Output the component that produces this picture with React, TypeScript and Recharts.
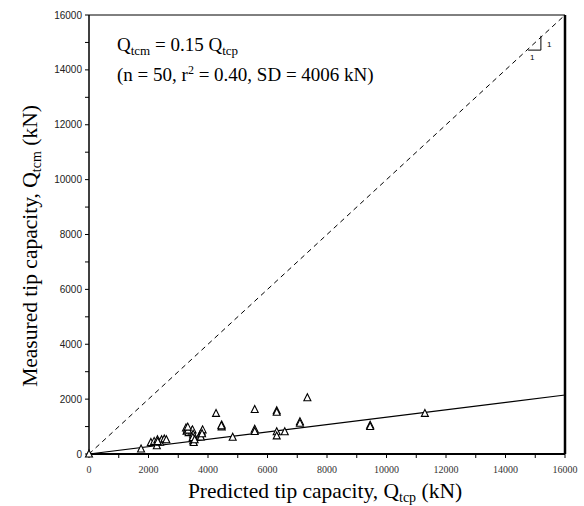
import React from "react";
import {
  ReferenceLine,
  Scatter,
  ScatterChart,
  XAxis,
  YAxis,
} from "recharts";

const predicted = [
  0, 1750, 2080, 2190, 2280, 2300, 2390, 2440, 2530, 2600,
  3260, 3280, 3300, 3350, 3450, 3480, 3500, 3500, 3500, 3520,
  3500, 3730, 3790, 3820, 3760, 4270, 4460, 4460, 4830, 5570,
  5570, 5570, 6310, 6310, 6310, 6310, 6580, 7090, 7090, 7340,
  9450, 9450, 11290, 3330, 2310, 3490, 3550, 3800, 3320, 4450,
];
const measured = [
  0, 180, 420, 460, 300, 520, 430, 520, 550, 520,
  950, 830, 900, 780, 830, 880, 650, 560, 480, 420,
  720, 690, 800, 880, 620, 1480, 1060, 990, 610, 1620,
  900, 820, 1580, 1520, 810, 660, 810, 1180, 1120, 2050,
  1050, 1000, 1480, 870, 450, 600, 520, 740, 980, 1030,
];

const axisTicks = [
  0, 1000, 2000, 3000, 4000, 5000, 6000, 7000, 8000, 9000, 10000,
  11000, 12000, 13000, 14000, 15000, 16000,
];
const oneToOne = [
  { x: 0, y: 0 },
  { x: 16000, y: 16000 },
];
const fitLine = [
  { x: 0, y: 0 },
  { x: 16000, y: 2150 },
];
// small 1:1 slope marker near the top right
const slopeVertical = [
  { x: 15190, y: 14720 },
  { x: 15190, y: 15240 },
];
const slopeHorizontal = [
  { x: 14760, y: 14720 },
  { x: 15190, y: 14720 },
];

const points = predicted.map((p, i) => ({ x: p, y: measured[i] }));

const serif = "'Liberation Serif', 'Times New Roman', serif";
const sans = "'Liberation Sans', Arial, sans-serif";

const Triangle = (props: any) => {
  const { cx, cy } = props;
  if (cx == null || cy == null) return null;
  return (
    <polygon
      points={`${cx},${cy - 4} ${cx - 3.5},${cy + 3} ${cx + 3.5},${cy + 3}`}
      fill="#fff"
      stroke="#000"
      strokeWidth={1.1}
    />
  );
};

const labelEvery2000 = (v: number) => (v % 2000 === 0 ? String(v) : "");

export default function App() {
  return (
    <div style={{ position: "absolute", left: 0, top: 0, width: 584, height: 506, background: "#fff" }}>
      <ScatterChart
        width={584}
        height={506}
        margin={{ top: 15, right: 19, bottom: 22, left: 0 }}
      >
        <XAxis
          type="number"
          dataKey="x"
          domain={[0, 16000]}
          ticks={axisTicks}
          tickFormatter={labelEvery2000}
          interval={0}
          height={30}
          tickSize={4}
          tickMargin={8}
          axisLine={{ stroke: "#000", strokeWidth: 2 }}
          tickLine={{ stroke: "#000" }}
          tick={{ fontSize: 10, fontFamily: serif, fill: "#333" }}
        />
        <YAxis
          type="number"
          dataKey="y"
          domain={[0, 16000]}
          ticks={axisTicks}
          tickFormatter={labelEvery2000}
          interval={0}
          width={89}
          tickSize={4}
          tickMargin={3}
          axisLine={{ stroke: "#000", strokeWidth: 1.5 }}
          tickLine={{ stroke: "#000" }}
          tick={{ fontSize: 10, fontFamily: sans, fill: "#222" }}
        />
        <ReferenceLine y={16000} stroke="#000" strokeWidth={1} />
        <ReferenceLine x={16000} stroke="#000" strokeWidth={2.5} />
        <ReferenceLine segment={oneToOne} stroke="#000" strokeWidth={1} strokeDasharray="5 4" />
        <ReferenceLine segment={fitLine} stroke="#000" strokeWidth={1.2} />
        <ReferenceLine segment={slopeVertical} stroke="#000" strokeWidth={1} />
        <ReferenceLine segment={slopeHorizontal} stroke="#000" strokeWidth={1} />
        <Scatter data={points} shape={<Triangle />} isAnimationActive={false} />
      </ScatterChart>
      <svg
        width={584}
        height={506}
        style={{ position: "absolute", left: 0, top: 0, pointerEvents: "none" }}
      >
        <text x={117} y={51} fontFamily={serif} fontSize={19} fill="#000">
          Q<tspan fontSize={13} dy={4}>tcm</tspan>
          <tspan dy={-4}> = 0.15 Q</tspan>
          <tspan fontSize={13} dy={4}>tcp</tspan>
        </text>
        <text x={117} y={81} fontFamily={serif} fontSize={19} fill="#000">
          (n = 50, r<tspan fontSize={12} dy={-7}>2</tspan>
          <tspan dy={7}> = 0.40, SD = 4006 kN)</tspan>
        </text>
        <text x={547} y={47} fontFamily={sans} fontSize={8} fill="#000">1</text>
        <text x={530} y={60} fontFamily={sans} fontSize={8} fill="#000">1</text>
        <text x={325} y={498} textAnchor="middle" fontFamily={serif} fontSize={21.5} fill="#000">
          Predicted tip capacity, Q<tspan fontSize={14} dy={4}>tcp</tspan>
          <tspan dy={-4}> (kN)</tspan>
        </text>
        <text
          x={0}
          y={0}
          transform="translate(37,246) rotate(-90)"
          textAnchor="middle"
          fontFamily={serif}
          fontSize={21.5}
          fill="#000"
        >
          Measured tip capacity, Q<tspan fontSize={14} dy={4}>tcm</tspan>
          <tspan dy={-4}> (kN)</tspan>
        </text>
      </svg>
    </div>
  );
}
